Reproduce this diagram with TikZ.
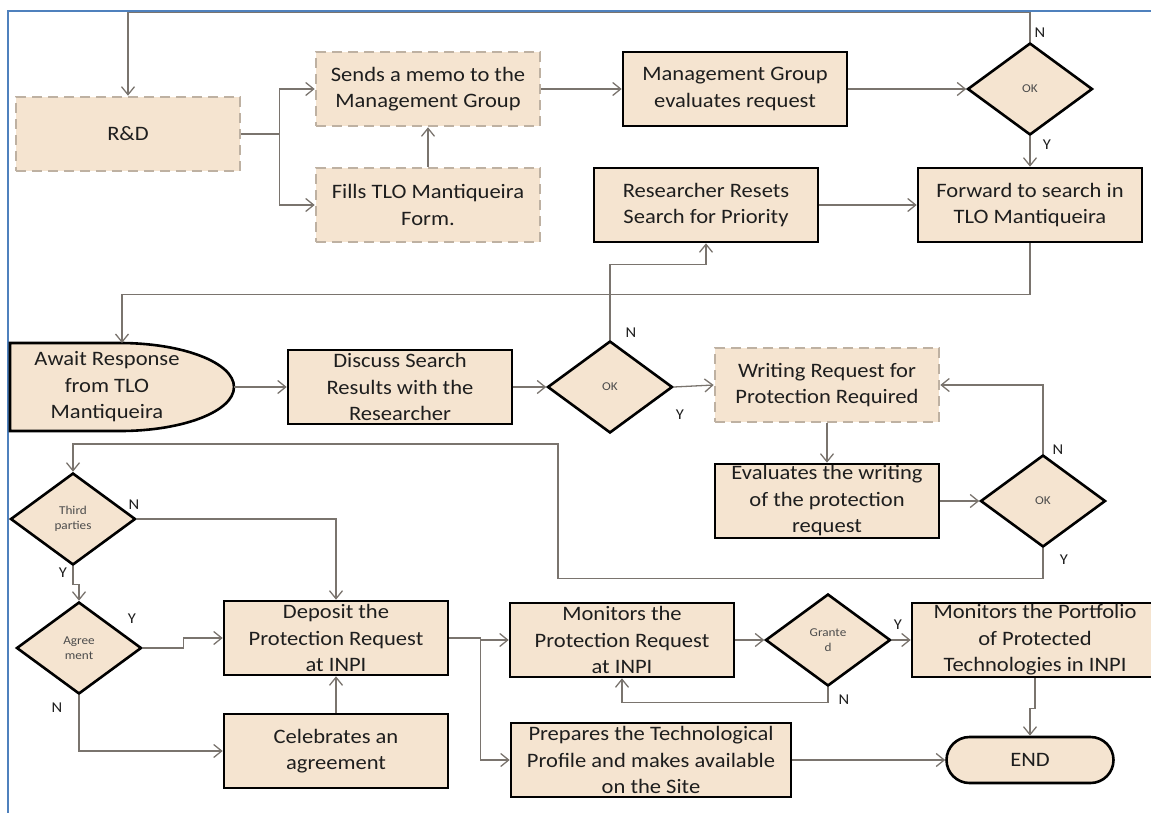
\documentclass[tikz,border=0pt]{standalone}
\usepackage{fontspec}
\setmainfont{Carlito}[FakeStretch=1.1]
\usetikzlibrary{shapes.geometric,arrows.meta,positioning,calc}
\definecolor{procFill}{RGB}{245,228,208}
\definecolor{dashGray}{RGB}{190,177,162}
\definecolor{lineGray}{RGB}{122,116,110}
\definecolor{frameBlue}{RGB}{79,129,189}
\definecolor{txtDark}{RGB}{30,30,30}
\tikzset{
  proc/.style={draw=black,line width=2.6pt,fill=procFill,minimum width=224pt,minimum height=74pt,
               inner sep=0pt,font=\fontsize{20.5}{26.5}\selectfont,align=center,text=txtDark},
  dproc/.style={proc,draw=dashGray,dash pattern=on 10pt off 6pt},
  dec/.style={diamond,draw=black,line width=2.6pt,fill=procFill,minimum width=125pt,minimum height=92pt,
              inner sep=0pt,font=\fontsize{12}{14.5}\selectfont,align=center,text=black!70},
  arr/.style={-{Straight Barb[length=8pt,width=13pt]},line width=1.3pt,lineGray},
  lbl/.style={font=\fontsize{15}{15}\selectfont,inner sep=0pt,text=txtDark},
}
\begin{document}
\begin{tikzpicture}[x=1pt,y=-1pt]
  \useasboundingbox (0,0) rectangle (1151,812);
  \draw[frameBlue,line width=1.3pt] (8,830) -- (8,11) -- (1170,11);

  % first row
  \node[dproc] (rd)    at (128,134) {R\&D};
  \node[dproc] (memo)  at (428,89)  {Sends a memo to the\\Management Group};
  \node[dproc] (form)  at (428,205) {Fills TLO Mantiqueira\\Form.};
  \node[proc]  (mgmt)  at (735,89)  {Management Group\\evaluates request};
  \node[dec]   (ok1)   at (1030,89) {OK};
  \node[proc]  (fwd)   at (1030,205) {Forward to search in\\TLO Mantiqueira};
  \node[proc]  (reset) at (706,205) {Researcher Resets\\Search for Priority};

  % second row
  \draw[line width=2.6pt,fill=procFill] (10,343) -- (120,343)
    arc[start angle=-90,end angle=90,x radius=114,y radius=44] -- (10,431) -- cycle;
  \node[proc,draw=none,fill=none,minimum width=0pt,minimum height=0pt] (await) at (107,387)
    {Await Response\\from TLO\\Mantiqueira};
  \coordinate (awaitN) at (122,343);
  \coordinate (awaitE) at (234,387);
  \node[proc]  (disc)  at (400,387) {Discuss Search\\Results with the\\Researcher};
  \node[dec]   (ok2)   at (610,387) {OK};
  \node[dproc] (write) at (827,385) {Writing Request for\\Protection Required};
  \node[proc]  (evalw) at (827,501) {Evaluates the writing\\of the protection\\request};
  \node[dec]   (ok3)   at (1043,501) {OK};

  % third row
  \node[dec]   (third)   at (73,519)  {Third\\parties};
  \node[dec]   (agree)   at (79,648)  {Agree\\ment};
  \node[proc]  (deposit) at (336,638) {Deposit the\\Protection Request\\at INPI};
  \node[proc]  (celeb)   at (336,751) {Celebrates an\\agreement};
  \node[proc]  (monit)   at (622,640) {Monitors the\\Protection Request\\at INPI};
  \node[dec]   (granted) at (828,640) {Grante\\d};
  \node[proc,minimum width=246pt] (portf) at (1035,640) {Monitors the Portfolio\\of Protected\\Technologies  in INPI};
  \node[proc,minimum width=280pt] (prep)  at (651,760) {Prepares the Technological\\Profile and makes available\\on the Site};
  \node[proc,rounded corners=23pt,minimum width=167pt,minimum height=46pt] (finish) at (1030,760) {END};

  % straight links
  \foreach \a/\b in {form.north/memo.south,memo.east/mgmt.west,mgmt.east/ok1.west,
                     ok1.south/fwd.north,reset.east/fwd.west,awaitE/disc.west,
                     disc.east/ok2.west,ok2.east/write.west,write.south/evalw.north,
                     evalw.east/ok3.west,celeb.north/deposit.south,monit.east/granted.west,
                     granted.east/portf.west,prep.east/finish.west}
    \draw[arr] (\a)--(\b);

  % elbow links
  \draw[arr] (ok1.north) -- ++(0,-29) -| (rd.north);
  \draw[arr] (rd.east) -- ++(38,0) |- (memo.west);
  \draw[arr] (rd.east) -- ++(38,0) |- (form.west);
  \draw[arr] (fwd.south) -- ++(0,51) -| (awaitN);
  \draw[arr] (ok2.north) -- ++(0,-75) -| (reset.south);
  \draw[arr] (ok3.north) |- (write.east);
  \coordinate (back) at (558,444);
  \draw[arr] (ok3.south) -- ++(0,30) -| (back) -| (third.north);
  \draw[arr] (third.east) -| (deposit.north);
  \draw[arr] (third.south) -- ++(0,18) -| (agree.north);
  \draw[arr] (agree.east) -- ++(41,0) |- (deposit.west);
  \draw[arr] (agree.south) |- (celeb.west);
  \draw[arr] (deposit.east) -- ++(31,0) |- (monit.west);
  \draw[arr] (deposit.east) -- ++(31,0) |- (prep.west);
  \draw[arr] (granted.south) -- ++(0,15) -| (monit.south);
  \draw[arr] (portf.south) -- ++(0,30) -| (finish.north);

  % labels
  \node[lbl] (n1) at (1040,33)  {N};
  \node[lbl] (y1) at (1047,145) {Y};
  \node[lbl] (n2) at (631,333)  {N};
  \node[lbl] (y2) at (680,415)  {Y};
  \node[lbl] (n3) at (1058,450) {N};
  \node[lbl] (y3) at (1064,560) {Y};
  \node[lbl] (n4) at (134,505)  {N};
  \node[lbl] (y4) at (63,573)   {Y};
  \node[lbl] (y5) at (132,619)  {Y};
  \node[lbl] (n5) at (57,708)   {N};
  \node[lbl] (n6) at (844,700)  {N};
  \node[lbl] (y6) at (898,625)  {Y};
\end{tikzpicture}
\end{document}
